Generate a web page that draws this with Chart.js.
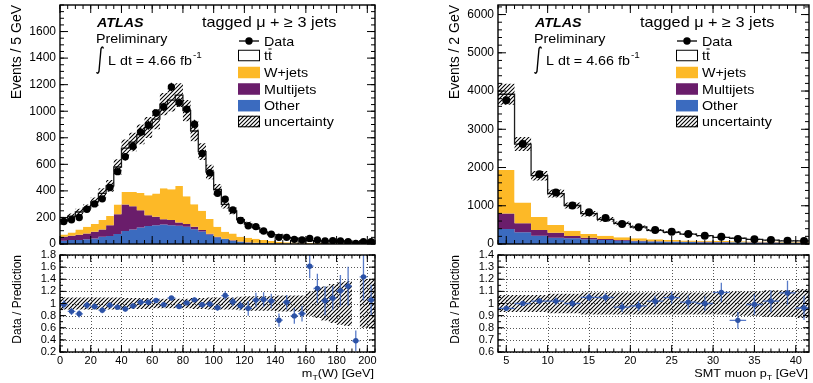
<!DOCTYPE html>
<html>
<head>
<meta charset="utf-8">
<title>tagged mu + 3 jets</title>
<script src="https://cdn.jsdelivr.net/npm/chart.js@4.4.1/dist/chart.umd.min.js"></script>
<style>
  html, body { margin: 0; padding: 0; background: #fff; }
  body { position: relative; width: 813px; height: 383px; overflow: hidden; }
  canvas { position: absolute; }
</style>
</head>
<body>
<canvas id="mtMain" width="400" height="250" style="left:0;top:0"></canvas>
<canvas id="mtRatio" width="400" height="133" style="left:0;top:250px"></canvas>
<canvas id="ptMain" width="375" height="250" style="left:438px;top:0"></canvas>
<canvas id="ptRatio" width="375" height="133" style="left:438px;top:250px"></canvas>
<script>
// m_T(W): 5 GeV bins from 0 GeV
const mtLo = 0, mtWidth = 5;
const mtData = [170,182,200,262,302,340,425,545,657,737,842,895,987,1032,1182,1065,1015,902,682,537,382,337,257,177,138,131,98,73,50,50,35,30,42,30,23,25,23,18,5,18,18];
const mtTtbar = [101,122,131,140,168,202,228,283,330,376,440,509,560,633,672,684,645,551,446,354,281,205,170,129,102,84,62,48,52,35,32,26,17,16,15,17,14,10,9,9.5,14];
const mtWjets = [17,25,40,50,58,70,68,72,95,107,130,151,175,233,232,275,210,170,145,111,75,53,52,36,34,30,22,16,12,10,9,7,7,6,5,5,4,3,3,2,2];
const mtMultijets = [30,32,40,45,50,55,82,150,200,175,130,82,63,40,38,25,20,18,10,5,5,3,3,2,2,1,1,1,1,1,0,1,0,0,1,0,0,0,0,0,0];
const mtOther = [25,30,30,35,42,55,60,75,97,110,125,135,142,147,142,137,130,112,95,72,50,37,25,17,12,9,7,5,4,3,3,2,2,2,1,1,1,1,1,1,1];
const mtUnc = [0.1,0.1,0.1,0.1,0.1,0.1,0.1,0.1,0.09,0.09,0.09,0.09,0.08,0.08,0.08,0.08,0.08,0.09,0.09,0.1,0.1,0.1,0.1,0.11,0.12,0.12,0.12,0.12,0.13,0.13,0.13,0.13,0.2,0.24,0.28,0.32,0.35,0.37,null,0.4,0.4];
const mtRatioErr = [0.07,0.06,0.06,0.06,0.05,0.05,0.05,0.04,0.04,0.04,0.04,0.04,0.03,0.03,0.03,0.03,0.03,0.04,0.04,0.04,0.05,0.07,0.07,0.07,0.12,0.12,0.12,0.12,0.11,0.12,0.13,0.13,0.2,0.24,0.24,0.2,0.26,0.32,0.17,0.39,0.25];
const mtTicksX = [0,20,40,60,80,100,120,140,160,180,200];
const mtTicksY = [0,200,400,600,800,1000,1200,1400,1600];
const mtTicksRatio = [0.2,0.4,0.6,0.8,1,1.2,1.4,1.6,1.8];

// SMT muon pT: 2 GeV bins from 4 GeV
const ptLo = 4, ptWidth = 2;
const ptData = [3759,2613,1823,1345,1007,833,677,521,435,365,322,261,217,191,130,122,104,87,78];
const ptTtbar = [1984,1525,1082,823,659,532,427,363,296,236,203,166,132,97,79,55,38,20,23];
const ptWjets = [1132,548,340,200,139,96,88,70,60,47,38,32,29,26,24,23,21,19,18];
const ptMultijets = [408,235,147,131,61,43,26,17,13,10,8,7,7,6,5,5,5,5,5];
const ptOther = [392,305,218,165,148,122,104,87,75,65,58,53,49,46,43,40,38,36,35];
const ptUnc = [0.07,0.07,0.07,0.08,0.08,0.09,0.09,0.09,0.09,0.09,0.09,0.09,0.09,0.09,0.1,0.1,0.11,0.11,0.12];
const ptRatioErr = [0.02,0.02,0.02,0.03,0.03,0.03,0.035,0.04,0.04,0.045,0.05,0.055,0.06,0.08,0.07,0.085,0.09,0.1,0.1];
const ptTicksX = [5,10,15,20,25,30,35,40];
const ptTicksY = [0,1000,2000,3000,4000,5000,6000];
const ptTicksRatio = [0.6,0.7,0.8,0.9,1,1.1,1.2,1.3,1.4];

const legendLabels = ['Data', 'tt', 'W+jets', 'Multijets', 'Other', 'uncertainty'];

const FONT = '"Liberation Sans", Arial, Helvetica, sans-serif';
const C_W = '#fdb927', C_MJ = '#6a1d6b', C_OTHER = '#3b6bbf', C_RATIO = '#2c52a6';

function makeHatch(size) {
  const c = document.createElement('canvas');
  c.width = c.height = size;
  const g = c.getContext('2d');
  g.strokeStyle = '#000';
  g.lineWidth = 1.1;
  g.beginPath();
  g.moveTo(0, size); g.lineTo(size, 0);
  g.moveTo(-1, 1); g.lineTo(1, -1);
  g.moveTo(size - 1, size + 1); g.lineTo(size + 1, size - 1);
  g.stroke();
  return g.createPattern(c, 'repeat');
}
const HATCH = makeHatch(4);

const steps = (lo, w, vals) => vals.flatMap((v, i) => [{x: lo + i * w, y: v}, {x: lo + (i + 1) * w, y: v}]);
const sum = (...arrs) => arrs[0].map((_, i) => arrs.reduce((s, a) => s + a[i], 0));

function txt(ctx, s, x, y, font, sx) {
  sx = sx || 1.1;
  ctx.save();
  ctx.font = font;
  ctx.fillStyle = '#000';
  ctx.textBaseline = 'alphabetic';
  ctx.textAlign = 'left';
  ctx.translate(x, y);
  ctx.scale(sx, 1);
  ctx.fillText(s, 0, 0);
  const w = ctx.measureText(s).width * sx;
  ctx.restore();
  return w;
}

// ROOT style frame: ticks inside on all four sides, optional dotted grid
const rootFrame = {
  id: 'rootFrame',
  beforeDatasetsDraw(chart, args, o) {
    if (!o.grid) return;
    const {ctx, chartArea: a, scales: {x, y}} = chart;
    ctx.save();
    ctx.strokeStyle = '#555';
    ctx.lineWidth = 1;
    ctx.setLineDash([1, 2]);
    ctx.beginPath();
    o.xTicks.forEach(v => { const p = Math.round(x.getPixelForValue(v)) + 0.5; ctx.moveTo(p, a.top); ctx.lineTo(p, a.bottom); });
    o.yTicks.forEach(v => { const p = Math.round(y.getPixelForValue(v)) + 0.5; ctx.moveTo(a.left, p); ctx.lineTo(a.right, p); });
    ctx.stroke();
    ctx.restore();
  },
  afterDatasetsDraw(chart, args, o) {
    const {ctx, chartArea: a, scales: {x, y}} = chart;
    const minors = (sc, step) => {
      const out = [];
      const n0 = Math.ceil(sc.min / step - 1e-9), n1 = Math.floor(sc.max / step + 1e-9);
      for (let n = n0; n <= n1; n++) out.push(n * step);
      return out;
    };
    ctx.save();
    ctx.strokeStyle = '#000';
    ctx.lineWidth = 1;
    ctx.beginPath();
    const tx = (v, len) => {
      const p = x.getPixelForValue(v);
      ctx.moveTo(p, a.bottom); ctx.lineTo(p, a.bottom - len);
      ctx.moveTo(p, a.top); ctx.lineTo(p, a.top + len);
    };
    const ty = (v, len) => {
      const p = y.getPixelForValue(v);
      ctx.moveTo(a.left, p); ctx.lineTo(a.left + len, p);
      ctx.moveTo(a.right, p); ctx.lineTo(a.right - len, p);
    };
    minors(x, o.xMinor).forEach(v => tx(v, o.xLen[1]));
    o.xTicks.forEach(v => tx(v, o.xLen[0]));
    minors(y, o.yMinor).forEach(v => ty(v, o.yLen[1]));
    o.yTicks.forEach(v => ty(v, o.yLen[0]));
    ctx.stroke();
    ctx.lineWidth = 1.4;
    ctx.strokeRect(a.left, a.top, a.right - a.left, a.bottom - a.top);
    ctx.restore();
  }
};

// vertical (and optional horizontal) error bars under the markers
const errorBars = {
  id: 'errorBars',
  beforeDatasetDraw(chart, args) {
    const ds = chart.data.datasets[args.index];
    if (!ds.errY) return;
    const {ctx, chartArea: a, scales: {x, y}} = chart;
    ctx.save();
    ctx.beginPath();
    ctx.rect(a.left, a.top, a.right - a.left, a.bottom - a.top);
    ctx.clip();
    ctx.strokeStyle = ds.errColor;
    ctx.lineWidth = ds.errWidth;
    ctx.beginPath();
    ds.data.forEach((p, i) => {
      const px = x.getPixelForValue(p.x), py = y.getPixelForValue(p.y);
      ctx.moveTo(px, y.getPixelForValue(p.y - ds.errY[i]));
      ctx.lineTo(px, y.getPixelForValue(p.y + ds.errY[i]));
      if (ds.errX) {
        ctx.moveTo(x.getPixelForValue(p.x - ds.errX), py);
        ctx.lineTo(x.getPixelForValue(p.x + ds.errX), py);
      }
    });
    ctx.stroke();
    ctx.restore();
  }
};

function drawHeader(ctx, L) {
  const f13 = '13px ' + FONT;
  ctx.save();
  txt(ctx, 'ATLAS', L + 37, 27, 'bold italic 13px ' + FONT);
  txt(ctx, 'Preliminary', L + 36, 43, f13);
  ctx.strokeStyle = '#000';
  ctx.lineWidth = 1.4;
  ctx.beginPath();
  ctx.moveTo(L + 43.5, 48.5);
  ctx.quadraticCurveTo(L + 42.2, 45.3, L + 41, 48.8);
  ctx.lineTo(L + 39, 71.2);
  ctx.quadraticCurveTo(L + 37.8, 74.7, L + 36.5, 72.2);
  ctx.stroke();
  const w = txt(ctx, 'L dt = 4.66 fb', L + 48, 65, f13);
  txt(ctx, '-1', L + 49 + w, 58, '9px ' + FONT);
  txt(ctx, 'tagged \u03bc + \u2265 3 jets', L + 142, 27, '14.5px ' + FONT, 1.12);

  const rows = [41, 55.5, 72.5, 89, 105.7, 121.5];
  const bx = L + 178, bw = 22, bh = 11.5, tx = L + 204;
  // Data
  ctx.lineWidth = 1.3;
  ctx.beginPath(); ctx.moveTo(bx + 1, rows[0]); ctx.lineTo(bx + bw - 1, rows[0]); ctx.stroke();
  ctx.fillStyle = '#000';
  ctx.beginPath(); ctx.arc(bx + bw / 2, rows[0], 3.7, 0, 2 * Math.PI); ctx.fill();
  txt(ctx, legendLabels[0], tx, rows[0] + 4.5, f13);
  // boxes
  const fills = [null, '#fff', C_W, C_MJ, C_OTHER, HATCH];
  for (let i = 1; i < 6; i++) {
    const top = rows[i] - bh / 2;
    ctx.fillStyle = fills[i];
    ctx.fillRect(bx, top, bw, bh);
    if (i === 1 || i === 5) {
      ctx.lineWidth = 1;
      ctx.strokeStyle = '#000';
      ctx.strokeRect(bx + 0.5, top + 0.5, bw - 1, bh - 1);
    }
    const wl = txt(ctx, legendLabels[i], tx, rows[i] + 4.5, f13);
    if (i === 1) {
      // bar over the second t
      ctx.lineWidth = 1;
      ctx.beginPath();
      ctx.moveTo(tx + wl / 2 + 0.5, rows[i] - 6.5);
      ctx.lineTo(tx + wl - 0.3, rows[i] - 6.5);
      ctx.stroke();
    }
  }
  ctx.restore();
}

function drawXTitle(ctx, right, base, parts) {
  const f = '11.5px ' + FONT, fs = '8px ' + FONT;
  ctx.save();
  let total = 0;
  parts.forEach(([s, sub]) => { ctx.font = sub ? fs : f; total += ctx.measureText(s).width * 1.1; });
  let x = right - total;
  parts.forEach(([s, sub]) => { x += txt(ctx, s, x, base + (sub ? 3 : 0), sub ? fs : f); });
  ctx.restore();
}

const annot = {
  id: 'annot',
  afterDraw(chart, args, o) {
    const {ctx, chartArea: a} = chart;
    if (o.header) drawHeader(ctx, a.left);
    if (o.xTitle) drawXTitle(ctx, a.right - 1, 127, o.xTitle);
  }
};

const fixedTicks = list => s => { s.ticks = list.map(value => ({value})); };
const tickFont = size => ({color: '#000', font: {family: FONT, size}, autoSkip: false, maxRotation: 0});
// keep chart areas at fixed pixel positions: no extra room for overhanging labels
const fitY = s => { s.width = 60; s.paddingTop = 0; s.paddingBottom = 0; };
const fitX = h => s => { s.height = h; s.paddingLeft = 0; s.paddingRight = 0; };

function mainChart(id, h) {
  const cW = sum(h.other, h.mj, h.w);
  const cMJ = sum(h.other, h.mj);
  const total = sum(h.other, h.mj, h.w, h.tt);
  const up = total.map((t, i) => h.unc[i] == null ? null : t * (1 + h.unc[i]));
  const dn = total.map((t, i) => h.unc[i] == null ? null : t * (1 - h.unc[i]));
  const layer = (vals, fill, color, extra) => Object.assign({
    data: steps(h.lo, h.width, vals), fill, backgroundColor: color,
    borderColor: 'rgba(0,0,0,0)', borderWidth: 0, pointRadius: 0, tension: 0
  }, extra || {});
  new Chart(document.getElementById(id), {
    type: 'line',
    data: {datasets: [
      {data: h.data.map((v, i) => ({x: h.lo + (i + 0.5) * h.width, y: v})), showLine: false,
       pointRadius: h.marker, pointBackgroundColor: '#000', pointBorderWidth: 0,
       errY: h.ratioErr.map((e, i) => e * total[i]), errColor: '#000', errWidth: 1.2},
      layer(up, 2, HATCH),
      layer(dn, false, 'rgba(0,0,0,0)'),
      layer(total, 4, '#fff', {borderColor: '#1e1e1e', borderWidth: 1.3}),
      layer(cW, 5, C_W),
      layer(cMJ, 6, C_MJ),
      layer(h.other, 'origin', C_OTHER)
    ]},
    options: {
      responsive: false, animation: false, devicePixelRatio: 1,
      layout: {padding: {left: 0, right: h.padRight, top: 5, bottom: 0}},
      plugins: {
        legend: {display: false}, tooltip: {enabled: false},
        rootFrame: {xTicks: h.ticksX, yTicks: h.ticksY, xMinor: h.xMinor, yMinor: h.yMinor, xLen: [8, 4], yLen: [8, 4]},
        annot: {header: true}
      },
      scales: {
        x: {type: 'linear', min: h.lo, max: h.xMax, afterBuildTicks: fixedTicks(h.ticksX),
            ticks: {display: false}, grid: {display: false, drawTicks: false}, border: {display: false},
            afterFit: fitX(6)},
        y: {type: 'linear', min: 0, max: h.yMax, afterBuildTicks: fixedTicks(h.ticksY),
            ticks: Object.assign(tickFont(12), {padding: 4, callback: v => String(v)}),
            grid: {display: false, drawTicks: false}, border: {display: false},
            title: {display: true, text: h.yTitle, align: 'end', color: '#000', font: {family: FONT, size: 14}, padding: {top: 9, bottom: 0}},
            afterFit: fitY}
      }
    },
    plugins: [rootFrame, errorBars, annot]
  });
}

function ratioChart(id, h) {
  const total = sum(h.other, h.mj, h.w, h.tt);
  const ratio = h.data.map((v, i) => v / total[i]);
  const band = sign => h.unc.map(u => u == null ? null : 1 + sign * u);
  const layer = (vals, fill, color) => ({
    data: steps(h.lo, h.width, vals), fill, backgroundColor: color,
    borderColor: 'rgba(0,0,0,0)', borderWidth: 0, pointRadius: 0, tension: 0
  });
  new Chart(document.getElementById(id), {
    type: 'line',
    data: {datasets: [
      {data: ratio.map((v, i) => ({x: h.lo + (i + 0.5) * h.width, y: v})), showLine: false,
       pointRadius: 2.7, pointBackgroundColor: C_RATIO, pointBorderWidth: 0,
       errY: h.ratioErr, errX: h.width / 2, errColor: 'rgba(60,100,190,0.85)', errWidth: 1.3},
      layer(band(1), 2, HATCH),
      layer(band(-1), false, 'rgba(0,0,0,0)')
    ]},
    options: {
      responsive: false, animation: false, devicePixelRatio: 1,
      layout: {padding: {left: 0, right: h.padRight, top: 5, bottom: 0}},
      plugins: {
        legend: {display: false}, tooltip: {enabled: false},
        rootFrame: {xTicks: h.ticksX, yTicks: h.ticksRatio, xMinor: h.xMinor, yMinor: h.rMinor, xLen: [7, 3.5], yLen: [6, 3], grid: true},
        annot: {xTitle: h.xTitle}
      },
      scales: {
        x: {type: 'linear', min: h.lo, max: h.xMax, afterBuildTicks: fixedTicks(h.ticksX),
            ticks: Object.assign(tickFont(11), {padding: 2, callback: v => String(v)}),
            grid: {display: false, drawTicks: false}, border: {display: false},
            afterFit: fitX(31)},
        y: {type: 'linear', min: h.rMin, max: h.rMax, afterBuildTicks: fixedTicks(h.ticksRatio),
            ticks: Object.assign(tickFont(11), {padding: 4, callback: v => String(+v.toFixed(2))}),
            grid: {display: false, drawTicks: false}, border: {display: false},
            title: {display: true, text: 'Data / Prediction', align: 'end', color: '#000', font: {family: FONT, size: 12}, padding: {top: 10, bottom: 0}},
            afterFit: fitY}
      }
    },
    plugins: [rootFrame, errorBars, annot]
  });
}

const mtHist = {
  lo: mtLo, width: mtWidth, xMax: 205, yMax: 1800, padRight: 25, marker: 3.7,
  data: mtData, tt: mtTtbar, w: mtWjets, mj: mtMultijets, other: mtOther, unc: mtUnc, ratioErr: mtRatioErr,
  ticksX: mtTicksX, ticksY: mtTicksY, ticksRatio: mtTicksRatio, xMinor: 5, yMinor: 50, rMinor: 0.1,
  rMin: 0.2, rMax: 1.8, yTitle: 'Events / 5 GeV',
  xTitle: [['m', false], ['T', true], ['(W) [GeV]', false]]
};
const ptHist = {
  lo: ptLo, width: ptWidth, xMax: 41.6, yMax: 6250, padRight: 2, marker: 4,
  data: ptData, tt: ptTtbar, w: ptWjets, mj: ptMultijets, other: ptOther, unc: ptUnc, ratioErr: ptRatioErr,
  ticksX: ptTicksX, ticksY: ptTicksY, ticksRatio: ptTicksRatio, xMinor: 1, yMinor: 200, rMinor: 0.05,
  rMin: 0.6, rMax: 1.4, yTitle: 'Events / 2 GeV',
  xTitle: [['SMT muon p', false], ['T', true], [' [GeV]', false]]
};

mainChart('mtMain', mtHist);
ratioChart('mtRatio', mtHist);
mainChart('ptMain', ptHist);
ratioChart('ptRatio', ptHist);
</script>
</body>
</html>
